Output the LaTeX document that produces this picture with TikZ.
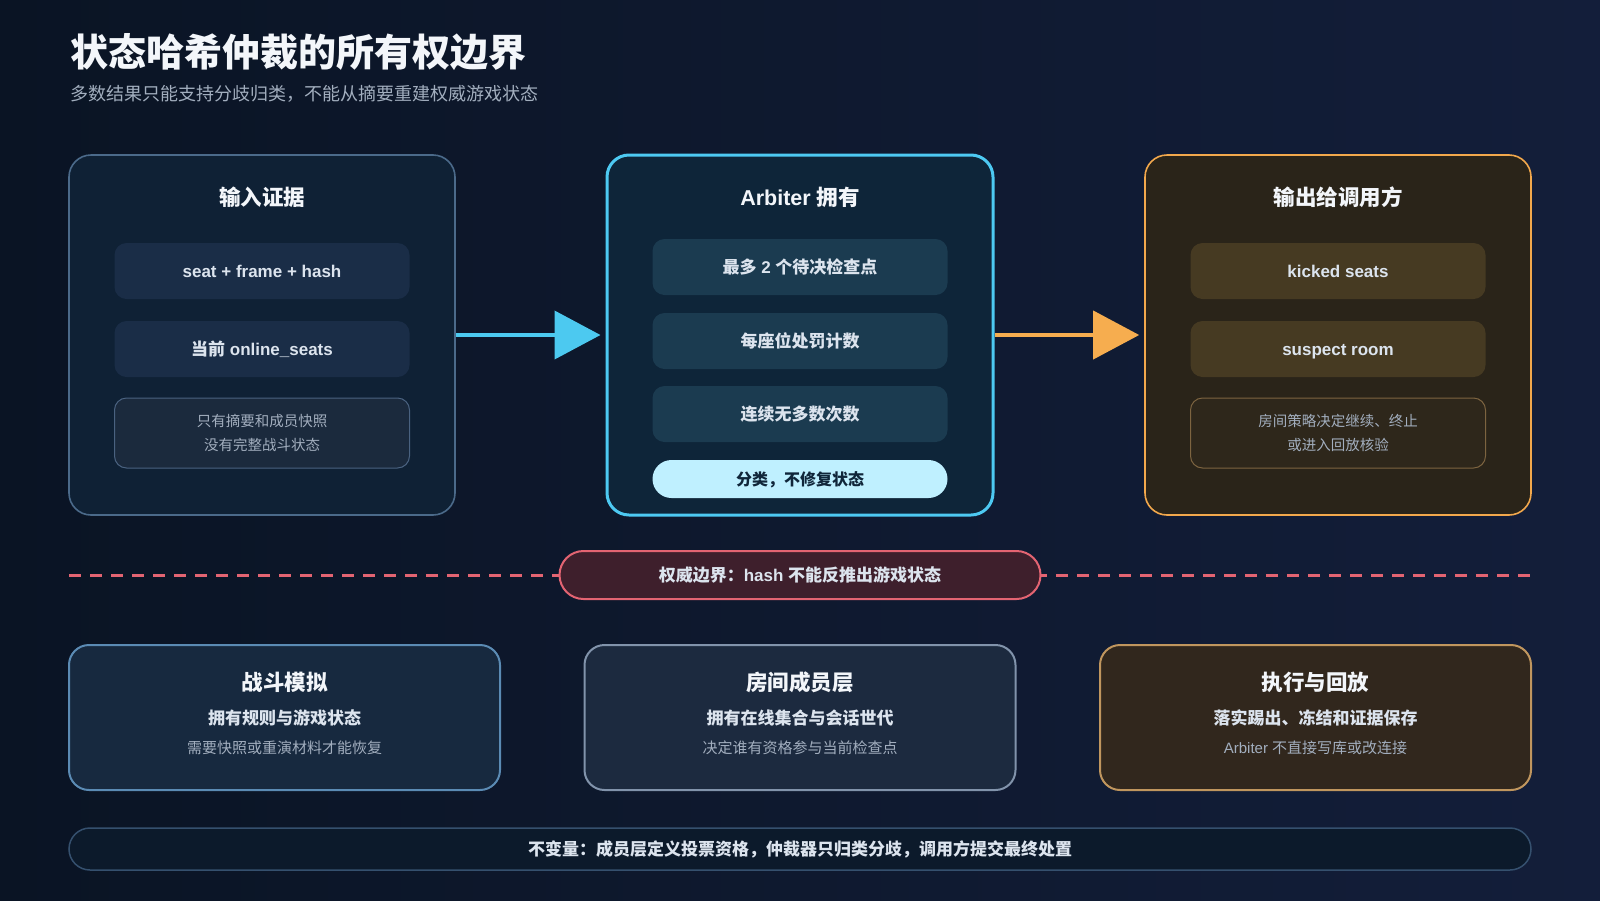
\documentclass[tikz,border=0pt]{standalone}
\usepackage{fontspec}
\setmainfont{Liberation Sans}
\newfontfamily\zh{Noto Sans CJK SC}
\usepackage{tikz}
\usetikzlibrary{arrows.meta,positioning}

\definecolor{bgA}{HTML}{0A1424}
\definecolor{bgB}{HTML}{131E3A}
\definecolor{txtW}{HTML}{F3F6FA}
\definecolor{txtL}{HTML}{DCE4EE}
\definecolor{txtG}{HTML}{A2AEBE}
\definecolor{inFill}{HTML}{0F2135}
\definecolor{inLine}{HTML}{4B6A8A}
\definecolor{inItem}{HTML}{1A2D47}
\definecolor{inNote}{HTML}{1B2A3D}
\definecolor{inNoteLine}{HTML}{4A6280}
\definecolor{arbFill}{HTML}{0E2539}
\definecolor{arbLine}{HTML}{4DC9F2}
\definecolor{arbItem}{HTML}{1B3B50}
\definecolor{arbPill}{HTML}{BFF0FF}
\definecolor{arbPillTxt}{HTML}{10263A}
\definecolor{outFill}{HTML}{2A2419}
\definecolor{outLine}{HTML}{F2A84C}
\definecolor{outItem}{HTML}{463A22}
\definecolor{outNote}{HTML}{2E271B}
\definecolor{outNoteLine}{HTML}{7D6440}
\definecolor{flowBlue}{HTML}{4CC9F0}
\definecolor{flowOrange}{HTML}{F6AD4F}
\definecolor{bndLine}{HTML}{E36472}
\definecolor{bndFill}{HTML}{3E1F2C}
\definecolor{simFill}{HTML}{17293F}
\definecolor{simLine}{HTML}{5B8BB4}
\definecolor{roomFill}{HTML}{1C2A3F}
\definecolor{roomLine}{HTML}{8193AB}
\definecolor{execFill}{HTML}{31271D}
\definecolor{execLine}{HTML}{C0965E}
\definecolor{invFill}{HTML}{0C1A2B}
\definecolor{invLine}{HTML}{35506E}

\newcommand\fsz[2]{\fontsize{#1}{#2}\selectfont}

\begin{document}
\begin{tikzpicture}[x=1pt,y=-1pt,>=Latex,
  panel/.style={draw,rounded corners=22pt,line width=1.6pt,minimum width=386pt,minimum height=360pt},
  ptitle/.style={text=txtW,font=\fsz{21.5}{26}\bfseries},
  item/.style={rounded corners=12pt,minimum width=295pt,minimum height=56pt,text=txtL,font=\fsz{17}{20}\bfseries,inner sep=0pt,text height=13pt,text depth=1pt},
  note/.style={draw,rounded corners=12pt,line width=1pt,minimum width=295pt,minimum height=70pt,align=center,text=txtG,font=\zh\fsz{14.5}{24.5},inner sep=0pt},
  lower/.style={draw,rounded corners=20pt,line width=2pt,minimum width=431pt,minimum height=145pt},
  ltitle/.style={text=txtW,font=\zh\fsz{21.5}{26}\bfseries},
  lsub/.style={text=txtL,font=\zh\fsz{17}{20}\bfseries},
  ldesc/.style={text=txtG,font=\fsz{15}{18}},
  flow/.style={line width=4pt,-{Triangle[length=46pt,width=48pt]},shorten >=5pt}]
\shade[left color=bgA,right color=bgB] (0,0) rectangle (1600,900);
\useasboundingbox (0,0) rectangle (1600,900);

% heading
\node[anchor=west,text=txtW,font=\zh\fsz{38}{44}\bfseries,inner sep=0pt] (title) at (70,52) {状态哈希仲裁的所有权边界};
\node[anchor=west,text=txtG,font=\zh\fsz{18}{22},inner sep=0pt] (subtitle) at (70,94) {多数结果只能支持分歧归类，不能从摘要重建权威游戏状态};

% three columns
\node[panel,draw=inLine,fill=inFill] (inp) at (262,335) {};
\node[ptitle] (inp_t) at (262,197) {\zh 输入证据};
\node[item,fill=inItem] (inp_a) at (262,271) {seat + frame + hash};
\node[item,fill=inItem] (inp_b) at (262,349) {{\zh 当前} online\_seats};
\node[note,draw=inNoteLine,fill=inNote] (inp_c) at (262,433) {只有摘要和成员快照\\没有完整战斗状态};

\node[panel,draw=arbLine,fill=arbFill,line width=3pt] (arb) at (800,335) {};
\node[ptitle] (arb_t) at (800,197) {Arbiter {\zh 拥有}};
\node[item,fill=arbItem] (arb_a) at (800,267) {{\zh 最多} 2 {\zh 个待决检查点}};
\node[item,fill=arbItem] (arb_b) at (800,341) {\zh 每座位处罚计数};
\node[item,fill=arbItem] (arb_c) at (800,414) {\zh 连续无多数次数};
\node[item,fill=arbPill,rounded corners=19pt,minimum height=38pt,text=arbPillTxt,font=\zh\fsz{16}{20}\bfseries] (arb_d) at (800,479) {分类，不修复状态};

\node[panel,draw=outLine,fill=outFill] (out) at (1338,335) {};
\node[ptitle] (out_t) at (1338,197) {\zh 输出给调用方};
\node[item,fill=outItem] (out_a) at (1338,271) {kicked seats};
\node[item,fill=outItem] (out_b) at (1338,349) {suspect room};
\node[note,draw=outNoteLine,fill=outNote] (out_c) at (1338,433) {房间策略决定继续、终止\\或进入回放核验};

\draw[flow,flowBlue] (inp.east) -- (arb.west);
\draw[flow,flowOrange] (arb.east) -- (out.west);

% authority boundary
\coordinate (sep_l) at (69,575);
\coordinate (sep_r) at (1531,575);
\draw[bndLine,line width=3pt,dash pattern=on 12pt off 9pt] (sep_l) -- (sep_r);
\node[draw=bndLine,fill=bndFill,line width=2pt,rounded corners=24pt,minimum width=481pt,minimum height=48pt,text=txtL,font=\fsz{17}{20}\bfseries] (bnd) at (800,575) {{\zh 权威边界：}hash {\zh 不能反推出游戏状态}};

% owners
\node[lower,draw=simLine,fill=simFill] (sim) at (284.5,717.5) {};
\node[ltitle] (sim_t) at (284.5,682) {战斗模拟};
\node[lsub] (sim_s) at (284.5,718) {拥有规则与游戏状态};
\node[ldesc] (sim_d) at (284.5,748) {\zh 需要快照或重演材料才能恢复};

\node[lower,draw=roomLine,fill=roomFill] (room) at (800,717.5) {};
\node[ltitle] (room_t) at (800,682) {房间成员层};
\node[lsub] (room_s) at (800,718) {拥有在线集合与会话世代};
\node[ldesc] (room_d) at (800,748) {\zh 决定谁有资格参与当前检查点};

\node[lower,draw=execLine,fill=execFill] (exec) at (1315.5,717.5) {};
\node[ltitle] (exec_t) at (1315.5,682) {执行与回放};
\node[lsub] (exec_s) at (1315.5,718) {落实踢出、冻结和证据保存};
\node[ldesc] (exec_d) at (1315.5,748) {Arbiter {\zh 不直接写库或改连接}};

% invariant
\node[draw=invLine,fill=invFill,line width=1.5pt,rounded corners=21pt,minimum width=1462pt,minimum height=42pt,text=txtL,font=\zh\fsz{17}{20}\bfseries] (inv) at (800,849) {不变量：成员层定义投票资格，仲裁器只归类分歧，调用方提交最终处置};
\end{tikzpicture}
\end{document}
